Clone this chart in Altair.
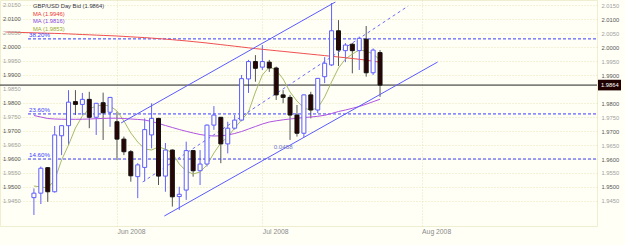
import altair as alt
import pandas as pd

# ---------------- data ----------------
opens = [1.9462, 1.9478, 1.9569, 1.9483, 1.9683, 1.9719, 1.9805, 1.9795, 1.9813, 1.9749,
         1.9801, 1.9767, 1.9733, 1.9671, 1.9626, 1.9537, 1.9570, 1.9686, 1.9745, 1.9539,
         1.9632, 1.9466, 1.9489, 1.9630, 1.9558, 1.9582, 1.9721, 1.9749, 1.9654, 1.9710,
         1.9739, 1.9886, 1.9948, 1.9928, 1.9946, 1.9925, 1.9829, 1.9820, 1.9757, 1.9692,
         1.9829, 1.9775, 1.9894, 1.9936, 2.0058, 1.9987, 2.0010, 1.9987, 2.0028, 1.9908,
         1.9980]
highs = [1.9495, 1.9573, 1.9571, 1.9718, 1.9721, 1.9846, 1.9846, 1.9836, 1.9840, 1.9800,
         1.9837, 1.9821, 1.9769, 1.9680, 1.9632, 1.9585, 1.9745, 1.9799, 1.9747, 1.9657,
         1.9634, 1.9501, 1.9662, 1.9632, 1.9632, 1.9723, 1.9789, 1.9750, 1.9733, 1.9757,
         1.9900, 1.9954, 1.9971, 2.0007, 1.9954, 1.9930, 1.9846, 1.9829, 1.9793, 1.9830,
         1.9840, 1.9889, 1.9964, 2.0157, 2.0096, 2.0014, 2.0014, 2.0037, 2.0075, 1.9995,
         1.9989]
lows = [1.9400, 1.9439, 1.9447, 1.9480, 1.9614, 1.9650, 1.9757, 1.9757, 1.9710, 1.9686,
        1.9668, 1.9715, 1.9596, 1.9614, 1.9519, 1.9460, 1.9520, 1.9638, 1.9507, 1.9483,
        1.9430, 1.9418, 1.9454, 1.9537, 1.9507, 1.9573, 1.9704, 1.9585, 1.9620, 1.9705,
        1.9735, 1.9836, 1.9876, 1.9918, 1.9911, 1.9811, 1.9799, 1.9668, 1.9680, 1.9678,
        1.9745, 1.9764, 1.9871, 1.9932, 1.9932, 1.9946, 1.9906, 1.9918, 1.9894, 1.9900,
        1.9822]
closes = [1.9478, 1.9567, 1.9483, 1.9686, 1.9719, 1.9803, 1.9795, 1.9813, 1.9749, 1.9799,
          1.9765, 1.9820, 1.9671, 1.9626, 1.9540, 1.9579, 1.9705, 1.9745, 1.9539, 1.9632,
          1.9465, 1.9474, 1.9630, 1.9558, 1.9582, 1.9721, 1.9757, 1.9654, 1.9710, 1.9739,
          1.9887, 1.9948, 1.9924, 1.9948, 1.9925, 1.9829, 1.9820, 1.9757, 1.9692, 1.9829,
          1.9775, 1.9888, 1.9942, 2.0058, 1.9989, 2.0007, 1.9987, 2.0031, 1.9908, 1.9989,
          1.9864]

# short moving average (green), bars 0..50
ma_green = [1.95036, 1.95000, 1.94964, 1.95250, 1.95964, 1.96500, 1.97107, 1.97536, 1.97786, 1.97893,
            1.97929, 1.97893, 1.97714, 1.97357, 1.96929, 1.96607, 1.96357, 1.96321, 1.96429, 1.96357,
            1.96214, 1.95821, 1.95571, 1.95464, 1.95536, 1.95786, 1.96214, 1.96571, 1.96786, 1.97107,
            1.97393, 1.97679, 1.98393, 1.99000, 1.99286, 1.99179, 1.98857, 1.98393, 1.98071, 1.97821,
            1.97750, 1.97821, 1.98214, 1.98750, 1.99250, 1.99571, 1.99750, 1.99893, 1.99857, 1.99750,
            1.99536]
# medium moving average (purple), bars 0..50
ma_purple = [1.97554, 1.97500, 1.97446, 1.97429, 1.97421, 1.97418, 1.97418, 1.97421, 1.97429, 1.97439,
             1.97450, 1.97457, 1.97457, 1.97446, 1.97429, 1.97414, 1.97393, 1.97339, 1.97268, 1.97196,
             1.97125, 1.97054, 1.96989, 1.96929, 1.96875, 1.96839, 1.96821, 1.96829, 1.96857, 1.96911,
             1.96982, 1.97071, 1.97161, 1.97250, 1.97321, 1.97364, 1.97400, 1.97429, 1.97454, 1.97479,
             1.97500, 1.97525, 1.97561, 1.97625, 1.97696, 1.97750, 1.97811, 1.97875, 1.97957, 1.98046,
             1.98136]
# long moving average (red), bars -4..50
ma_red_start = -4
ma_red = [2.00536, 2.00529, 2.00521, 2.00514,
          2.00507, 2.00500, 2.00493, 2.00486, 2.00479, 2.00468, 2.00457, 2.00446, 2.00436, 2.00425,
          2.00414, 2.00404, 2.00393, 2.00379, 2.00364, 2.00350, 2.00336, 2.00318, 2.00300, 2.00282,
          2.00261, 2.00239, 2.00218, 2.00193, 2.00168, 2.00143, 2.00114, 2.00086, 2.00057, 2.00029,
          2.00000, 1.99971, 1.99943, 1.99918, 1.99893, 1.99868, 1.99843, 1.99818, 1.99793, 1.99768,
          1.99743, 1.99718, 1.99693, 1.99668, 1.99643, 1.99618, 1.99589, 1.99561, 1.99532, 1.99490,
          1.99460]

month_idx = [12, 33, 56]
month_labels = ["Jun 2008", "Jul 2008", "Aug 2008"]
price_ticks = [1.9450, 1.9500, 1.9550, 1.9600, 1.9650, 1.9700, 1.9750, 1.9800,
               1.9850, 1.9900, 1.9950, 2.0000, 2.0050, 2.0100, 2.0150]
price_major = [False, True, False, True, False, True, False, True,
               False, True, False, True, False, True, False]
fib_levels = [2.0029, 1.9761, 1.9600]
fib_labels = ["38.20%", "23.60%", "14.60%"]
last_price = 1.9864
last_label = "1.9864"
legend_texts = ["GBP/USD Day Bid (1.9864)", "MA (1.9946)", "MA (1.9816)", "MA (1.9853)"]
legend_colors = ["#333344", "#ee3333", "#8844dd", "#99aa33"]

upper_x = [12.59, 43.55]
upper_y = [1.97286, 2.01607]
lower_x = [18.84, 58.32]
lower_y = [1.93964, 1.99464]
mid_x = [15.71, 54.06]
mid_y = [1.95179, 2.01464]
width_text = "0.0458"
width_text_x = [36.0]
width_text_y = [1.9643]

# ---------------- layout ----------------
W, H = 597, 226
FONT = "Liberation Sans"
FS = 5.8
x_dom = [-4.176, 80.62]
y_dom = [1.93607, 2.01679]
legend_rows_y = [6, 13.5, 21, 28.5]

xs = alt.Scale(domain=x_dom, nice=False, zero=False)
ys = alt.Scale(domain=y_dom, nice=False, zero=False)

# right-hand labels: the one hidden behind the last-price box is not shown
right_ticks = [t for t in price_ticks if abs(t - last_price) > 0.003]

label_expr = " : ".join(
    [f"datum.value == {m} ? '{l}'" for m, l in zip(month_idx, month_labels)]) + " : ''"
x_axis = alt.Axis(values=month_idx, labelExpr=label_expr, title=None, grid=True,
                  gridColor="#e6e5b8", gridDash=[1, 2], ticks=False, domain=False,
                  labelAlign="left", labelPadding=2, labelFont=FONT, labelFontSize=6.8,
                  labelColor="#8a8a8a")


def X(field):
    return alt.X(field, type="quantitative", scale=xs, axis=x_axis)


candles = pd.DataFrame({"i": list(range(len(opens))), "open": opens, "high": highs,
                        "low": lows, "close": closes})
ma_df = pd.concat([
    pd.DataFrame({"i": list(range(len(ma_green))), "v": ma_green, "s": "g"}),
    pd.DataFrame({"i": list(range(len(ma_purple))), "v": ma_purple, "s": "p"}),
    pd.DataFrame({"i": list(range(ma_red_start, ma_red_start + len(ma_red))), "v": ma_red, "s": "r"}),
])
chan_df = pd.concat([
    pd.DataFrame({"i": upper_x, "v": upper_y, "s": "u"}),
    pd.DataFrame({"i": lower_x, "v": lower_y, "s": "l"}),
])
mid_df = pd.DataFrame({"i": mid_x, "v": mid_y})
ticks_df = pd.DataFrame({"v": price_ticks, "major": price_major,
                         "lab": [f"{t:.4f}" for t in price_ticks]})
fib_df = pd.DataFrame({"v": fib_levels, "lab": fib_labels})
last_df = pd.DataFrame({"v": [last_price], "lab": [last_label]})
wtext_df = pd.DataFrame({"i": width_text_x, "v": width_text_y, "t": [width_text]})

up_cond = "datum.close >= datum.open"

base = alt.Chart(candles)

wicks = base.mark_rule(strokeWidth=1).encode(
    x=X("i"),
    y=alt.Y("low:Q", scale=ys,
            axis=alt.Axis(orient="right", values=right_ticks, format=".4f", title=None,
                          grid=True, gridColor="#e6e5b8", gridDash=[1, 2], ticks=False,
                          domain=False, labelPadding=4, labelFont=FONT, labelFontSize=FS,
                          labelColor=alt.condition("round(datum.value*1000) % 10 == 0",
                                                   alt.value("#555555"), alt.value("#a0a0a0")))),
    y2="high:Q",
    color=alt.condition(up_cond, alt.value("#6262ff"), alt.value("#555555")),
)

bodies = base.mark_bar(size=4, strokeWidth=1).encode(
    x=X("i"),
    y=alt.Y("open:Q", scale=ys, axis=None),
    y2="close:Q",
    fill=alt.condition(up_cond, alt.value("#ffffff"), alt.value("#2a0505")),
    stroke=alt.condition(up_cond, alt.value("#5c5cff"), alt.value("#111111")),
)

ma_lines = alt.Chart(ma_df).mark_line(strokeWidth=1, clip=True).encode(
    x=X("i"),
    y=alt.Y("v:Q", scale=ys, axis=None),
    detail="s:N",
    color=alt.Color("s:N", scale=alt.Scale(domain=["g", "p", "r"],
                                           range=["#a8bb66", "#b054e0", "#f05050"]), legend=None),
)

chan_lines = alt.Chart(chan_df).mark_line(strokeWidth=1, color="#5a5aff", clip=True).encode(
    x=X("i"),
    y=alt.Y("v:Q", scale=ys, axis=None),
    detail="s:N",
)

mid_line = alt.Chart(mid_df).mark_line(strokeWidth=1, color="#6a6aff", strokeDash=[3, 3], clip=True).encode(
    x=X("i"),
    y=alt.Y("v:Q", scale=ys, axis=None),
)

fib_rules = alt.Chart(fib_df).mark_rule(strokeWidth=1, color="#3a3aff", strokeDash=[3, 2]).encode(
    y=alt.Y("v:Q", scale=ys, axis=None),
    x=alt.value(28), x2=alt.value(W),
)
fib_text = alt.Chart(fib_df).mark_text(align="left", baseline="bottom", font=FONT, fontSize=6.2,
                                       color="#4040ff", dy=-1).encode(
    y=alt.Y("v:Q", scale=ys, axis=None),
    x=alt.value(29),
    text="lab:N",
)

last_rule = alt.Chart(last_df).mark_rule(strokeWidth=1, color="#222222").encode(
    y=alt.Y("v:Q", scale=ys, axis=None),
    x=alt.value(0), x2=alt.value(W),
)
last_box = alt.Chart(last_df).transform_calculate(
    top="datum.v + 0.0019", bot="datum.v - 0.0019"
).mark_rect(color="#200000", clip=False).encode(
    y=alt.Y("top:Q", scale=ys, axis=None),
    y2="bot:Q",
    x=alt.value(W + 1), x2=alt.value(W + 24),
)
last_text = alt.Chart(last_df).mark_text(align="left", baseline="middle", font=FONT, fontSize=FS,
                                         color="#ffffff", clip=False).encode(
    y=alt.Y("v:Q", scale=ys, axis=None),
    x=alt.value(W + 4),
    text="lab:N",
)

left_labels = alt.Chart(ticks_df).mark_text(align="left", baseline="middle", font=FONT,
                                            fontSize=FS).encode(
    y=alt.Y("v:Q", scale=ys, axis=None),
    x=alt.value(3),
    text="lab:N",
    color=alt.condition("datum.major", alt.value("#555555"), alt.value("#a0a0a0")),
)

legend_layers = [
    alt.Chart(last_df).mark_text(align="left", baseline="middle", font=FONT, fontSize=FS,
                                 color=c).encode(
        x=alt.value(33), y=alt.value(yy), text=alt.value(t))
    for t, c, yy in zip(legend_texts, legend_colors, legend_rows_y)
]

wtext = alt.Chart(wtext_df).mark_text(font=FONT, fontSize=6.2, color="#6f78c8").encode(
    x=X("i"),
    y=alt.Y("v:Q", scale=ys, axis=None),
    text="t:N",
)

chart = alt.layer(
    wicks, fib_rules, last_rule, ma_lines, chan_lines, mid_line, bodies,
    fib_text, left_labels, wtext, last_box, last_text, *legend_layers,
).resolve_scale(y="independent").properties(
    width=W, height=H,
    background="#fffff6",
    padding={"left": 0, "top": 0, "right": 28, "bottom": 19},
    autosize=alt.AutoSizeParams(type="none"),
).configure_view(stroke="#efeed0")

chart.save("out.html", embed_options={"renderer": "svg", "actions": False})
